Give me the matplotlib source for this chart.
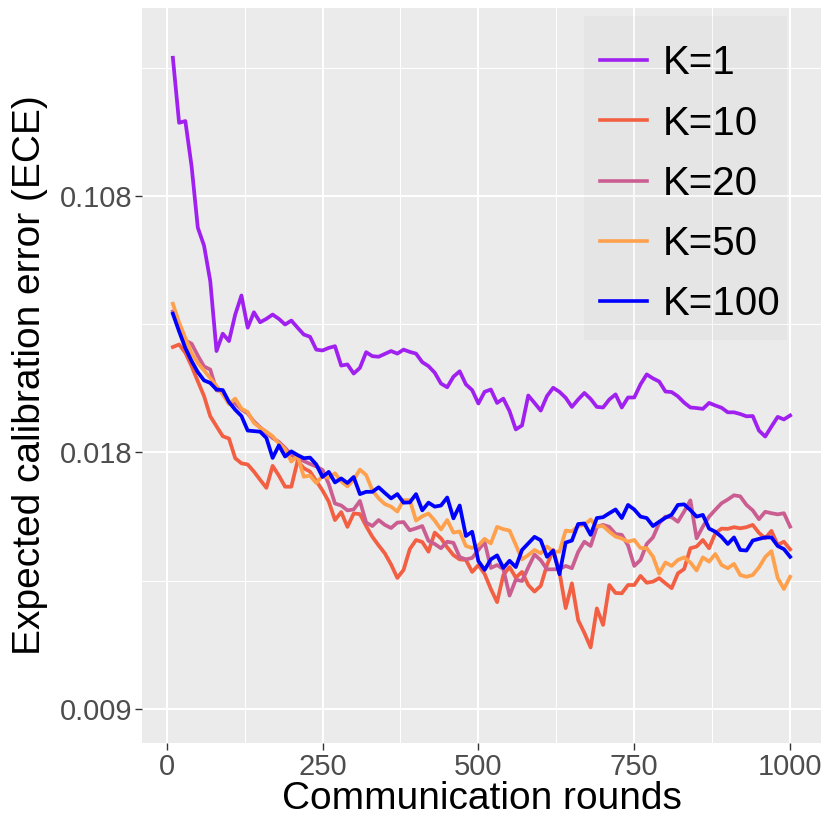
import numpy as np
import matplotlib
matplotlib.use("Agg")
import matplotlib.pyplot as plt
from matplotlib.patches import Rectangle

plt.rcParams['font.family'] = ['Liberation Sans', 'DejaVu Sans']

# communication rounds (every 10 rounds)
rounds = np.arange(10, 1001, 10)

labels = ["K=1", "K=10", "K=20", "K=50", "K=100"]
colors = ["#A020F0", "#F25F42", "#CB5E91", "#FFA04D", "#0000FF"]

k1 = [0.1565, 0.1337, 0.1343, 0.1185, 0.0969, 0.0906, 0.0781, 0.0536, 0.0597, 0.0571,
      0.0664, 0.0731, 0.0618, 0.0672, 0.0637, 0.0649, 0.0664, 0.0649, 0.0629, 0.0643,
      0.0618, 0.0594, 0.0586, 0.0541, 0.0538, 0.0547, 0.0553, 0.0485, 0.0489, 0.0457,
      0.0477, 0.0532, 0.0518, 0.0516, 0.0526, 0.0536, 0.0527, 0.0541, 0.0533, 0.0527,
      0.0497, 0.0483, 0.0460, 0.0422, 0.0409, 0.0446, 0.0465, 0.0419, 0.0399, 0.0352,
      0.0393, 0.0401, 0.0354, 0.0369, 0.0325, 0.0261, 0.0275, 0.0380, 0.0354, 0.0327,
      0.0378, 0.0407, 0.0393, 0.0372, 0.0340, 0.0366, 0.0389, 0.0368, 0.0340, 0.0338,
      0.0366, 0.0384, 0.0338, 0.0373, 0.0373, 0.0419, 0.0454, 0.0440, 0.0429, 0.0394,
      0.0392, 0.0377, 0.0355, 0.0338, 0.0336, 0.0333, 0.0354, 0.0345, 0.0337, 0.0321,
      0.0321, 0.0315, 0.0307, 0.0308, 0.0257, 0.0236, 0.0271, 0.0305, 0.0296, 0.0310]

k10 = [0.0550, 0.0559, 0.0530, 0.0483, 0.0430, 0.0378, 0.0307, 0.0272, 0.0237, 0.0229,
       0.01780, 0.01762, 0.01758, 0.01733, 0.01704, 0.01676, 0.01753, 0.01719, 0.01680, 0.01680,
       0.01770, 0.01745, 0.01733, 0.01700, 0.01667, 0.01628, 0.01563, 0.01591, 0.01539, 0.01586,
       0.01584, 0.01542, 0.01504, 0.01474, 0.01446, 0.01407, 0.01360, 0.01388, 0.01461, 0.01493,
       0.01486, 0.01452, 0.01519, 0.01499, 0.01467, 0.01440, 0.01425, 0.01423, 0.01381, 0.01405,
       0.01374, 0.01321, 0.01275, 0.01370, 0.01398, 0.01361, 0.01381, 0.01335, 0.01312, 0.01332,
       0.01405, 0.01458, 0.01381, 0.01254, 0.01341, 0.01212, 0.01167, 0.01116, 0.01253, 0.01195,
       0.01335, 0.01307, 0.01306, 0.01335, 0.01335, 0.01367, 0.01343, 0.01347, 0.01359, 0.01341,
       0.01324, 0.01376, 0.01391, 0.01464, 0.01470, 0.01493, 0.01464, 0.01517, 0.01533, 0.01532,
       0.01538, 0.01534, 0.01538, 0.01546, 0.01518, 0.01499, 0.01525, 0.01476, 0.01487, 0.01460]

k20 = [0.0675, 0.0626, 0.0573, 0.0562, 0.0520, 0.0482, 0.0471, 0.0398, 0.0395, 0.0355,
       0.0352, 0.0331, 0.0317, 0.0289, 0.0268, 0.0250, 0.0231, 0.0217, 0.0196, 0.01791,
       0.01779, 0.01770, 0.01760, 0.01751, 0.01739, 0.01690, 0.01621, 0.01614, 0.01597, 0.01600,
       0.01630, 0.01554, 0.01542, 0.01563, 0.01546, 0.01535, 0.01554, 0.01556, 0.01527, 0.01534,
       0.01542, 0.01490, 0.01479, 0.01464, 0.01487, 0.01483, 0.01433, 0.01425, 0.01430, 0.01458,
       0.01486, 0.01395, 0.01405, 0.01391, 0.01298, 0.01354, 0.01349, 0.01397, 0.01442, 0.01422,
       0.01390, 0.01390, 0.01391, 0.01402, 0.01394, 0.01451, 0.01487, 0.01472, 0.01539, 0.01546,
       0.01539, 0.01514, 0.01511, 0.01474, 0.01402, 0.01423, 0.01479, 0.01502, 0.01552, 0.01575,
       0.01573, 0.01557, 0.01593, 0.01632, 0.01499, 0.01540, 0.01575, 0.01599, 0.01622, 0.01635,
       0.01650, 0.01646, 0.01616, 0.01597, 0.01566, 0.01592, 0.01587, 0.01583, 0.01587, 0.01540]

k50 = [0.0702, 0.0636, 0.0582, 0.0529, 0.0494, 0.0468, 0.0441, 0.0413, 0.0384, 0.0350,
       0.0369, 0.0334, 0.0322, 0.0284, 0.0267, 0.0253, 0.0237, 0.0212, 0.0192, 0.01768,
       0.01788, 0.01715, 0.01719, 0.01693, 0.01718, 0.01711, 0.01727, 0.01698, 0.01681, 0.01705,
       0.01740, 0.01721, 0.01667, 0.01639, 0.01619, 0.01610, 0.01593, 0.01633, 0.01633, 0.01561,
       0.01576, 0.01586, 0.01561, 0.01530, 0.01563, 0.01519, 0.01523, 0.01472, 0.01465, 0.01474,
       0.01497, 0.01481, 0.01539, 0.01531, 0.01526, 0.01476, 0.01425, 0.01440, 0.01458, 0.01446,
       0.01470, 0.01452, 0.01452, 0.01526, 0.01523, 0.01542, 0.01546, 0.01565, 0.01540, 0.01542,
       0.01522, 0.01505, 0.01498, 0.01487, 0.01493, 0.01465, 0.01464, 0.01435, 0.01375, 0.01414,
       0.01402, 0.01423, 0.01432, 0.01414, 0.01386, 0.01432, 0.01417, 0.01444, 0.01405, 0.01394,
       0.01409, 0.01370, 0.01364, 0.01370, 0.01397, 0.01433, 0.01454, 0.01360, 0.01321, 0.01364]

k100 = [0.0667, 0.0605, 0.0547, 0.0501, 0.0462, 0.0433, 0.0424, 0.0401, 0.0399, 0.0357,
        0.0330, 0.0308, 0.0257, 0.0255, 0.0253, 0.0231, 0.01781, 0.0205, 0.01786, 0.0184,
        0.01791, 0.01780, 0.01782, 0.01758, 0.01714, 0.01732, 0.01695, 0.01709, 0.01693, 0.01714,
        0.01654, 0.01662, 0.01662, 0.01678, 0.01658, 0.01639, 0.01654, 0.01624, 0.01625, 0.01654,
        0.01597, 0.01624, 0.01610, 0.01614, 0.01642, 0.01569, 0.01614, 0.01507, 0.01522, 0.01419,
        0.01388, 0.01425, 0.01439, 0.01395, 0.01420, 0.01398, 0.01458, 0.01481, 0.01504, 0.01492,
        0.01434, 0.01456, 0.01373, 0.01484, 0.01491, 0.01549, 0.01551, 0.01511, 0.01570, 0.01573,
        0.01587, 0.01600, 0.01570, 0.01616, 0.01600, 0.01575, 0.01570, 0.01542, 0.01557, 0.01571,
        0.01582, 0.01616, 0.01618, 0.01598, 0.01575, 0.01581, 0.01533, 0.01522, 0.01504, 0.01479,
        0.01502, 0.01458, 0.01456, 0.01491, 0.01497, 0.01502, 0.01502, 0.01472, 0.01461, 0.01434]

series = [k1, k10, k20, k50, k100]

y_breaks = [0.009, 0.018, 0.108]
y_labels = ["0.009", "0.018", "0.108"]
x_breaks = [0, 250, 500, 750, 1000]


# the y axis puts the three breaks at equal distances
def fwd(v):
    v = np.asarray(v, dtype=float)
    return np.where(v <= 0.018, v / 0.009 - 1.0, 1.0 + (v - 0.018) / 0.09)


def inv(u):
    u = np.asarray(u, dtype=float)
    return np.where(u <= 1.0, 0.009 * (1.0 + u), 0.018 + 0.09 * (u - 1.0))


fig = plt.figure(figsize=(8.3, 8.3), dpi=100)
ax = fig.add_axes([142 / 830, 87 / 830, 679 / 830, 735 / 830])
ax.set_facecolor("#EBEBEB")
ax.set_yscale("function", functions=(fwd, inv))

for vals, lab, col in zip(series, labels, colors):
    ax.plot(rounds, vals, color=col, lw=2.7, label=lab, solid_joinstyle="round")

ax.set_xlim(-39.5, 1049.5)
ax.set_ylim(float(inv(-0.1326)), float(inv(2.733)))

ax.set_yticks(y_breaks)
ax.set_yticklabels(y_labels)
ax.set_yticks([float(inv(0.5)), float(inv(1.5)), float(inv(2.5))], minor=True)
ax.set_xticks(x_breaks)
ax.set_xticks([125, 375, 625, 875], minor=True)

ax.grid(which="major", color="white", lw=1.5)
ax.grid(which="minor", color="white", lw=0.75)
ax.set_axisbelow(True)
for s in ax.spines.values():
    s.set_visible(False)

ax.tick_params(which="major", length=5, width=1, color="#333333",
               labelsize=21, labelcolor="#4D4D4D", pad=2)
ax.tick_params(which="minor", length=0)

fig.text(481.5 / 830, 1 - 799 / 830, "Communication rounds", fontsize=28,
         ha="center", va="center")
fig.text(30 / 830, 1 - 375.5 / 830, "Expected calibration error (ECE)", fontsize=28,
         ha="center", va="center", rotation=90)

# legend background: a light see-through box over the panel
ax.add_patch(Rectangle((0.651, 0.548), 0.299, 0.441, transform=ax.transAxes,
                       facecolor="black", alpha=0.025, edgecolor="none", zorder=4))

leg = ax.legend(loc="upper left", bbox_to_anchor=(0.6745, 0.9505), fontsize=29,
                frameon=False, handlelength=1.17, handletextpad=0.4,
                labelspacing=0.55, borderpad=0.0, borderaxespad=0)
for line in leg.get_lines():
    line.set_linewidth(2.6)

fig.savefig("out.png", dpi=100)
